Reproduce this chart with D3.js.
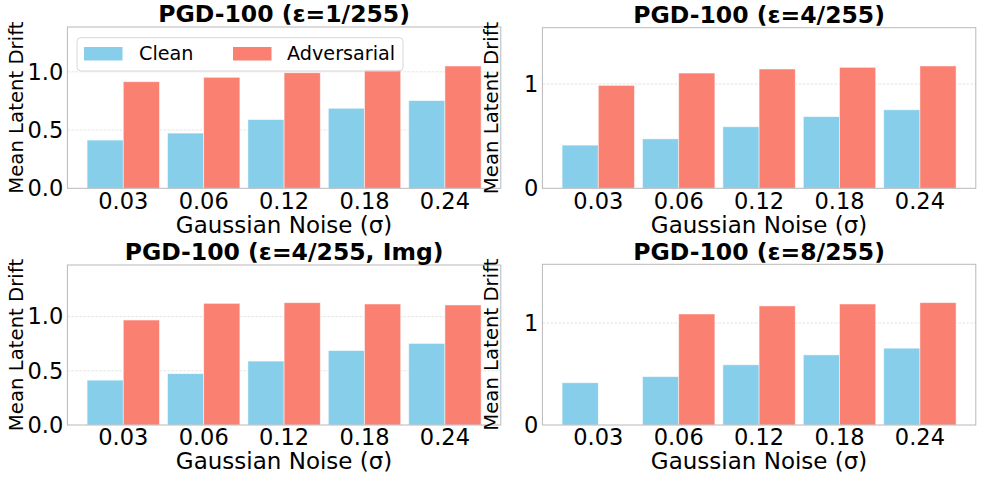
<!DOCTYPE html>
<html>
<head>
<meta charset="utf-8">
<script src="https://cdn.jsdelivr.net/npm/d3@7"></script>
<style>
  html, body { margin: 0; padding: 0; background: #fff; }
  svg { display: block; font-family: "DejaVu Sans", sans-serif; }
</style>
</head>
<body>
<svg id="chart" width="982" height="479"></svg>
<script>
// ---- data ----
const categories = ["0.03", "0.06", "0.12", "0.18", "0.24"];
const seriesNames = ["Clean", "Adversarial"];
const panelTitles = ["PGD-100 (ε=1/255)", "PGD-100 (ε=4/255)", "PGD-100 (ε=4/255, Img)", "PGD-100 (ε=8/255)"];
const cleanDrift = [0.414, 0.474, 0.590, 0.687, 0.753];
const advEps1 = [0.915, 0.953, 0.992, 1.021, 1.050];
const advEps4 = [0.987, 1.105, 1.144, 1.160, 1.173];
const advEps4Img = [0.969, 1.123, 1.129, 1.117, 1.108];
const advEps8 = [null, 1.088, 1.167, 1.186, 1.199];
const yMaxes = [1.385, 1.54, 1.477, 1.575];
const yTicksA = [0, 0.5, 1.0];
const yTicksB = [0, 1];
const xLabel = "Gaussian Noise (σ)";
const yLabel = "Mean Latent Drift";

// ---- style / layout ----
const colors = ["#87CEEB", "#FA8072"];
const panels = [
  { title: panelTitles[0], adv: advEps1, ymax: yMaxes[0], ticks: yTicksA, fmt: d3.format(".1f"), x0: 67.4, x1: 500.8, y0: 27, y1: 188.3, legend: true },
  { title: panelTitles[1], adv: advEps4, ymax: yMaxes[1], ticks: yTicksB, fmt: d3.format("d"), x0: 542.4, x1: 975.8, y0: 27.7, y1: 188.3, legend: false },
  { title: panelTitles[2], adv: advEps4Img, ymax: yMaxes[2], ticks: yTicksA, fmt: d3.format(".1f"), x0: 67.4, x1: 500.8, y0: 265, y1: 425, legend: false },
  { title: panelTitles[3], adv: advEps8, ymax: yMaxes[3], ticks: yTicksB, fmt: d3.format("d"), x0: 542.4, x1: 975.8, y0: 264.3, y1: 425, legend: false }
];

const svg = d3.select("#chart");

panels.forEach(p => {
  const g = svg.append("g");
  const x = d3.scaleBand().domain(categories).range([p.x0, p.x1]).paddingInner(0.1).paddingOuter(0.245);
  const xs = d3.scaleBand().domain(seriesNames).range([0, x.bandwidth()]).padding(0);
  const y = d3.scaleLinear().domain([0, p.ymax]).range([p.y1, p.y0]);

  // grid
  g.append("g").selectAll("line").data(p.ticks.filter(t => t > 0)).join("line")
    .attr("x1", p.x0).attr("x2", p.x1)
    .attr("y1", d => y(d)).attr("y2", d => y(d))
    .attr("stroke", "#dcdcdc").attr("stroke-width", 0.8).attr("stroke-dasharray", "2.5,1.5");

  // bars
  const rows = categories.map((c, i) => ({ c, vals: [cleanDrift[i], p.adv[i]] }));
  const grp = g.append("g").selectAll("g").data(rows).join("g")
    .attr("transform", d => `translate(${x(d.c)},0)`);
  grp.selectAll("rect")
    .data(d => d.vals.map((v, k) => ({ s: seriesNames[k], v, k })).filter(e => e.v != null))
    .join("rect")
    .attr("x", d => xs(d.s))
    .attr("width", xs.bandwidth())
    .attr("y", d => y(d.v))
    .attr("height", d => y(0) - y(d.v))
    .attr("fill", d => colors[d.k])
    .attr("stroke", "#ffffff").attr("stroke-opacity", 0.6).attr("stroke-width", 0.8);

  // frame
  g.append("rect")
    .attr("x", p.x0).attr("y", p.y0)
    .attr("width", p.x1 - p.x0).attr("height", p.y1 - p.y0)
    .attr("fill", "none").attr("stroke", "#b8b8b8").attr("stroke-width", 1);

  // x axis
  const xa = g.append("g").attr("transform", `translate(0,${p.y1})`)
    .call(d3.axisBottom(x).tickSize(0).tickPadding(4.3));
  xa.select(".domain").remove();
  xa.selectAll("text").attr("font-size", 22.5).attr("fill", "#000").attr("font-family", "DejaVu Sans");

  // y axis
  const ya = g.append("g").attr("transform", `translate(${p.x0},0)`)
    .call(d3.axisLeft(y).tickValues(p.ticks).tickFormat(p.fmt).tickSize(0).tickPadding(4.2));
  ya.select(".domain").remove();
  ya.selectAll("text").attr("font-size", 22.5).attr("fill", "#000").attr("font-family", "DejaVu Sans");

  // title
  g.append("text")
    .attr("x", (p.x0 + p.x1) / 2).attr("y", p.y0 - 4.6)
    .attr("text-anchor", "middle").attr("font-size", 23.5).attr("font-weight", "bold")
    .text(p.title);

  // x label
  g.append("text")
    .attr("x", (p.x0 + p.x1) / 2).attr("y", p.y1 + 44.3)
    .attr("text-anchor", "middle").attr("font-size", 23)
    .text(xLabel);

  // y label
  g.append("text")
    .attr("transform", `translate(${p.x0 - 44.3},${(p.y0 + p.y1) / 2}) rotate(-90)`)
    .attr("text-anchor", "middle").attr("font-size", 19.7)
    .text(yLabel);

  // legend
  if (p.legend) {
    const lg = g.append("g");
    lg.append("rect")
      .attr("x", 77).attr("y", 37.7).attr("width", 326).attr("height", 33.3)
      .attr("rx", 4).attr("fill", "#fff").attr("fill-opacity", 0.8)
      .attr("stroke", "#d8d8d8").attr("stroke-width", 1);
    const items = [{ name: seriesNames[0], px: 84, tx: 139 }, { name: seriesNames[1], px: 233, tx: 287 }];
    items.forEach((it, k) => {
      lg.append("rect").attr("x", it.px).attr("y", 47).attr("width", 38.5).attr("height", 13.5)
        .attr("fill", colors[k]);
      lg.append("text").attr("x", it.tx).attr("y", 60.3).attr("font-size", 19.2).text(it.name);
    });
  }
});
</script>
</body>
</html>
